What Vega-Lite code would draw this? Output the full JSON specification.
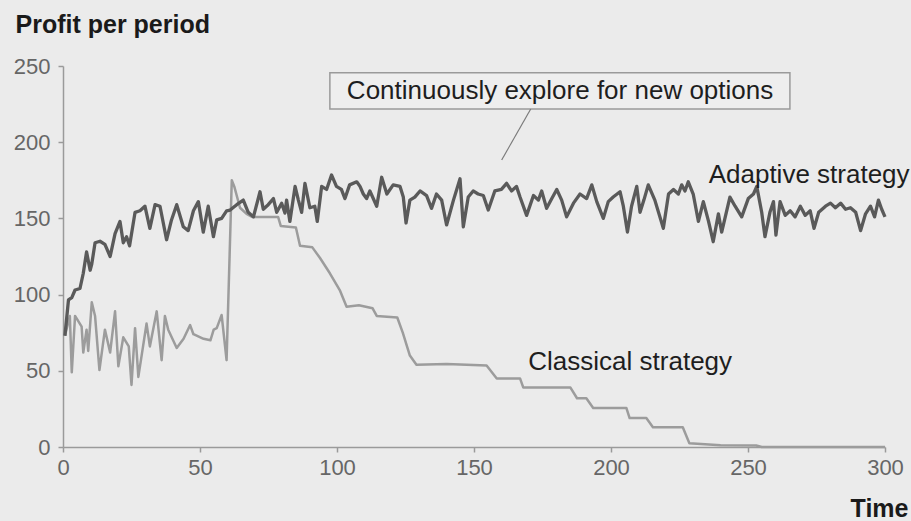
{
  "$schema": "https://vega.github.io/schema/vega-lite/v6.json",
  "width": 822,
  "height": 381,
  "autosize": {"type": "none"},
  "padding": {"left": 63, "top": 66, "right": 26, "bottom": 74},
  "background": "#ebebeb",
  "config": {
    "view": {"stroke": null},
    "font": "Liberation Sans",
    "axis": {
      "grid": false,
      "domainColor": "#9a9a9a",
      "domainWidth": 1.5,
      "tickColor": "#9a9a9a",
      "tickWidth": 1.5,
      "tickSize": 5,
      "labelFont": "Liberation Sans",
      "labelFontSize": 22,
      "labelColor": "#666666",
      "titleFont": "Liberation Sans",
      "titleFontSize": 25,
      "titleFontWeight": "bold",
      "titleColor": "#1a1a1a"
    }
  },
  "datasets": {
    "classical": [
      {"t": 0.7, "profit": 73}, {"t": 2.5, "profit": 86}, {"t": 3.2, "profit": 49}, {"t": 4.4, "profit": 86},
      {"t": 6.8, "profit": 79}, {"t": 7.4, "profit": 62}, {"t": 8.6, "profit": 77}, {"t": 9.2, "profit": 63},
      {"t": 10.5, "profit": 95}, {"t": 11.7, "profit": 86}, {"t": 13.3, "profit": 50.5}, {"t": 15.3, "profit": 77},
      {"t": 17.2, "profit": 62}, {"t": 19, "profit": 89}, {"t": 20.2, "profit": 53}, {"t": 22, "profit": 72},
      {"t": 24, "profit": 66}, {"t": 25, "profit": 40.7}, {"t": 26.3, "profit": 78}, {"t": 27.5, "profit": 46},
      {"t": 30.5, "profit": 81}, {"t": 31.7, "profit": 66}, {"t": 34.2, "profit": 89}, {"t": 36, "profit": 57},
      {"t": 37.2, "profit": 86}, {"t": 38.4, "profit": 77}, {"t": 41.5, "profit": 65}, {"t": 44, "profit": 71},
      {"t": 46.4, "profit": 80}, {"t": 47.6, "profit": 74}, {"t": 51.3, "profit": 71}, {"t": 53.8, "profit": 70},
      {"t": 55, "profit": 77}, {"t": 56.1, "profit": 78}, {"t": 57.9, "profit": 86.6}, {"t": 59.7, "profit": 57},
      {"t": 61.6, "profit": 175}, {"t": 62.5, "profit": 171}, {"t": 64.6, "profit": 157}, {"t": 67, "profit": 153},
      {"t": 69, "profit": 151}, {"t": 73, "profit": 151}, {"t": 78.5, "profit": 151}, {"t": 79.5, "profit": 145},
      {"t": 85, "profit": 144}, {"t": 86.5, "profit": 132}, {"t": 91, "profit": 131}, {"t": 93.8, "profit": 124},
      {"t": 97.4, "profit": 114}, {"t": 101, "profit": 103}, {"t": 103.5, "profit": 92}, {"t": 108, "profit": 93},
      {"t": 113, "profit": 91}, {"t": 114.5, "profit": 86}, {"t": 122, "profit": 85}, {"t": 124, "profit": 75},
      {"t": 126.6, "profit": 60}, {"t": 129, "profit": 54}, {"t": 140, "profit": 54.5}, {"t": 154.6, "profit": 53.5},
      {"t": 158.3, "profit": 45}, {"t": 166.8, "profit": 45}, {"t": 168, "profit": 39}, {"t": 185.2, "profit": 39},
      {"t": 187.6, "profit": 32}, {"t": 191, "profit": 32}, {"t": 193.5, "profit": 25.6}, {"t": 205.6, "profit": 25.6},
      {"t": 206.8, "profit": 19}, {"t": 212.9, "profit": 19}, {"t": 215.3, "profit": 13}, {"t": 226.2, "profit": 13},
      {"t": 228.6, "profit": 2.5}, {"t": 240, "profit": 1.2}, {"t": 253, "profit": 1}, {"t": 255, "profit": 0},
      {"t": 300, "profit": 0}
    ],
    "adaptive": [
      {"t": 0.7, "profit": 73}, {"t": 2, "profit": 96.5}, {"t": 3.2, "profit": 98}, {"t": 4.4, "profit": 103},
      {"t": 6.2, "profit": 104}, {"t": 7.4, "profit": 114}, {"t": 8.6, "profit": 128}, {"t": 9.9, "profit": 116},
      {"t": 10.5, "profit": 120}, {"t": 11.7, "profit": 134}, {"t": 13.5, "profit": 135}, {"t": 15.3, "profit": 133},
      {"t": 17.2, "profit": 125}, {"t": 19, "profit": 140}, {"t": 20.8, "profit": 148}, {"t": 22, "profit": 134},
      {"t": 23.2, "profit": 138}, {"t": 24.3, "profit": 132}, {"t": 26.3, "profit": 154}, {"t": 28.1, "profit": 155},
      {"t": 29.9, "profit": 158}, {"t": 31.7, "profit": 143.5}, {"t": 33.6, "profit": 159}, {"t": 35.4, "profit": 158},
      {"t": 37.8, "profit": 136}, {"t": 39.6, "profit": 149}, {"t": 41.5, "profit": 159}, {"t": 43.9, "profit": 144.5},
      {"t": 45.7, "profit": 142}, {"t": 47.6, "profit": 155}, {"t": 49.4, "profit": 161}, {"t": 51.2, "profit": 141},
      {"t": 53, "profit": 158}, {"t": 54.9, "profit": 138}, {"t": 56.1, "profit": 149}, {"t": 57.9, "profit": 150},
      {"t": 59.7, "profit": 155}, {"t": 61, "profit": 155.5}, {"t": 63.4, "profit": 159}, {"t": 65.8, "profit": 162},
      {"t": 67.6, "profit": 154}, {"t": 69.5, "profit": 151}, {"t": 71.9, "profit": 167.5}, {"t": 73.1, "profit": 156},
      {"t": 74.9, "profit": 159}, {"t": 76.8, "profit": 163}, {"t": 78, "profit": 154}, {"t": 79.8, "profit": 160},
      {"t": 81, "profit": 153.5}, {"t": 81.6, "profit": 162}, {"t": 82.8, "profit": 148}, {"t": 84.7, "profit": 171},
      {"t": 85.9, "profit": 162}, {"t": 87.1, "profit": 154}, {"t": 88.3, "profit": 173}, {"t": 90.1, "profit": 157},
      {"t": 91.9, "profit": 158}, {"t": 92.8, "profit": 148}, {"t": 94.4, "profit": 171}, {"t": 96.2, "profit": 169},
      {"t": 98, "profit": 178.5}, {"t": 99.8, "profit": 171}, {"t": 101.6, "profit": 169}, {"t": 102.9, "profit": 163},
      {"t": 104.6, "profit": 172}, {"t": 107.2, "profit": 174}, {"t": 108.4, "profit": 171}, {"t": 109.6, "profit": 166},
      {"t": 110.8, "profit": 163}, {"t": 112, "profit": 168}, {"t": 114.5, "profit": 158}, {"t": 116.3, "profit": 177},
      {"t": 118.2, "profit": 166}, {"t": 120.5, "profit": 172}, {"t": 123, "profit": 171}, {"t": 124.2, "profit": 164},
      {"t": 125.2, "profit": 147}, {"t": 126.6, "profit": 162}, {"t": 128.4, "profit": 164}, {"t": 130.3, "profit": 168},
      {"t": 132.7, "profit": 165}, {"t": 134.5, "profit": 156.6}, {"t": 136.3, "profit": 166}, {"t": 138.2, "profit": 162},
      {"t": 140, "profit": 145.7}, {"t": 142.5, "profit": 162}, {"t": 144.9, "profit": 176}, {"t": 146.1, "profit": 144.5},
      {"t": 147.9, "profit": 164}, {"t": 149.7, "profit": 168}, {"t": 151.5, "profit": 166}, {"t": 153.4, "profit": 165},
      {"t": 155.2, "profit": 155.5}, {"t": 157.6, "profit": 168}, {"t": 160, "profit": 169}, {"t": 161.9, "profit": 173},
      {"t": 163.7, "profit": 168}, {"t": 165.5, "profit": 171}, {"t": 166.8, "profit": 164}, {"t": 169.2, "profit": 152},
      {"t": 171.7, "profit": 165}, {"t": 173.5, "profit": 162}, {"t": 174.7, "profit": 168}, {"t": 176.5, "profit": 156.6},
      {"t": 178.4, "profit": 163}, {"t": 180.2, "profit": 169}, {"t": 182, "profit": 162}, {"t": 183.8, "profit": 151},
      {"t": 186.3, "profit": 160}, {"t": 188.7, "profit": 166}, {"t": 191.1, "profit": 163}, {"t": 193, "profit": 172},
      {"t": 194.8, "profit": 161}, {"t": 197.2, "profit": 150}, {"t": 199, "profit": 161}, {"t": 200.8, "profit": 164},
      {"t": 203.3, "profit": 167.5}, {"t": 204.5, "profit": 158}, {"t": 206, "profit": 141}, {"t": 207.5, "profit": 158},
      {"t": 209.4, "profit": 171}, {"t": 210.6, "profit": 154}, {"t": 212, "profit": 162}, {"t": 213.6, "profit": 172},
      {"t": 216, "profit": 162}, {"t": 219.1, "profit": 143.5}, {"t": 221, "profit": 166}, {"t": 222.8, "profit": 169},
      {"t": 224.6, "profit": 166}, {"t": 225.8, "profit": 172}, {"t": 227, "profit": 168}, {"t": 228.2, "profit": 174},
      {"t": 230, "profit": 166}, {"t": 231.9, "profit": 148}, {"t": 233.7, "profit": 161}, {"t": 235.6, "profit": 148},
      {"t": 237.3, "profit": 134.7}, {"t": 239.2, "profit": 153}, {"t": 240.4, "profit": 141}, {"t": 243.4, "profit": 164},
      {"t": 245.3, "profit": 158}, {"t": 247.7, "profit": 151}, {"t": 250.1, "profit": 163}, {"t": 252, "profit": 166},
      {"t": 253.2, "profit": 171}, {"t": 255, "profit": 154}, {"t": 256.2, "profit": 138}, {"t": 258, "profit": 154},
      {"t": 259.3, "profit": 161}, {"t": 260.2, "profit": 139}, {"t": 261.7, "profit": 161}, {"t": 263.6, "profit": 152},
      {"t": 265.4, "profit": 155}, {"t": 267.2, "profit": 151}, {"t": 269.1, "profit": 158}, {"t": 270.9, "profit": 152},
      {"t": 272.7, "profit": 155}, {"t": 274.1, "profit": 143.5}, {"t": 275.8, "profit": 154}, {"t": 278.3, "profit": 158},
      {"t": 280.1, "profit": 160}, {"t": 281.9, "profit": 157}, {"t": 283.8, "profit": 160}, {"t": 285.6, "profit": 156},
      {"t": 287.4, "profit": 157}, {"t": 289.3, "profit": 154}, {"t": 291.1, "profit": 142}, {"t": 292.9, "profit": 153},
      {"t": 294.7, "profit": 158}, {"t": 296.2, "profit": 151}, {"t": 297.6, "profit": 162}, {"t": 298.8, "profit": 156},
      {"t": 300, "profit": 151}
    ]
  },
  "layer": [
    {
      "data": {"name": "classical"},
      "mark": {"type": "line", "color": "#9c9c9c", "strokeWidth": 2.5, "strokeJoin": "round"},
      "encoding": {
        "x": {
          "field": "t", "type": "quantitative",
          "scale": {"domain": [0, 300], "nice": false},
          "axis": {
            "values": [0, 50, 100, 150, 200, 250, 300],
            "title": "Time",
            "titleAnchor": null,
            "titleAlign": "right",
            "titleX": 845,
            "titleY": 69,
            "titleBaseline": "alphabetic",
            "labelPadding": 5,
            "labelFlush": false
          }
        },
        "y": {
          "field": "profit", "type": "quantitative",
          "scale": {"domain": [0, 250], "nice": false},
          "axis": {
            "values": [0, 50, 100, 150, 200, 250],
            "title": "Profit per period",
            "titleAngle": 0,
            "titleAnchor": null,
            "titleAlign": "left",
            "titleX": -48,
            "titleY": -34,
            "titleBaseline": "alphabetic",
            "labelPadding": 8
          }
        }
      }
    },
    {
      "data": {"name": "adaptive"},
      "mark": {"type": "line", "color": "#5a5a5a", "strokeWidth": 3.3, "strokeJoin": "round"},
      "encoding": {
        "x": {"field": "t", "type": "quantitative"},
        "y": {"field": "profit", "type": "quantitative"}
      }
    },
    {
      "data": {"values": [{}]},
      "mark": {"type": "rect", "fill": "#eeeeee", "stroke": "#9a9a9a", "strokeWidth": 1.5},
      "encoding": {
        "x": {"datum": 97.4, "type": "quantitative"},
        "x2": {"datum": 265.3},
        "y": {"datum": 245.6, "type": "quantitative"},
        "y2": {"datum": 221.8}
      }
    },
    {
      "data": {"values": [{}]},
      "mark": {"type": "text", "text": "Continuously explore for new options", "fontSize": 26, "color": "#1e1e1e", "align": "center", "baseline": "middle"},
      "encoding": {
        "x": {"datum": 181.4, "type": "quantitative"},
        "y": {"datum": 233.6, "type": "quantitative"}
      }
    },
    {
      "data": {"values": [{}]},
      "mark": {"type": "rule", "color": "#7a7a7a", "strokeWidth": 1.2},
      "encoding": {
        "x": {"datum": 170.7, "type": "quantitative"},
        "x2": {"datum": 160.1},
        "y": {"datum": 221.8, "type": "quantitative"},
        "y2": {"datum": 188.3}
      }
    },
    {
      "data": {"values": [{}]},
      "mark": {"type": "text", "text": "Adaptive strategy", "fontSize": 26, "color": "#1e1e1e", "align": "center", "baseline": "middle"},
      "encoding": {
        "x": {"datum": 272.3, "type": "quantitative"},
        "y": {"datum": 178.5, "type": "quantitative"}
      }
    },
    {
      "data": {"values": [{}]},
      "mark": {"type": "text", "text": "Classical strategy", "fontSize": 26, "color": "#1e1e1e", "align": "center", "baseline": "middle"},
      "encoding": {
        "x": {"datum": 207, "type": "quantitative"},
        "y": {"datum": 55.8, "type": "quantitative"}
      }
    }
  ]
}
